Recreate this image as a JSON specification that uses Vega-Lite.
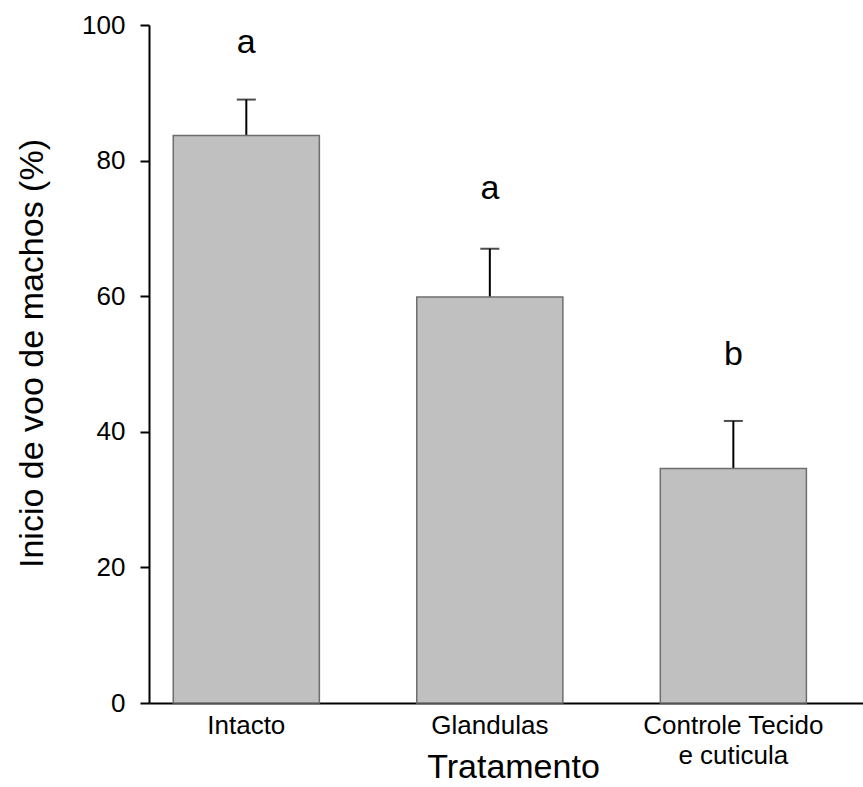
{
  "$schema": "https://vega.github.io/schema/vega-lite/v6.json",
  "autosize": {"type": "none"},
  "width": 714,
  "height": 678,
  "padding": {"left": 149, "top": 25, "right": 0, "bottom": 84},
  "background": "white",
  "config": {
    "view": {"stroke": null},
    "font": "Liberation Sans",
    "axis": {"grid": false, "domainColor": "black", "domainWidth": 2, "labelColor": "black", "titleColor": "black", "titleFontWeight": "normal", "labelFont": "Liberation Sans", "titleFont": "Liberation Sans", "labelLimit": 0}
  },
  "data": {
    "values": [
      {"tratamento": "Intacto", "valor": 83.7, "erro": 89.0, "letra": "a", "letra_pos": 95.8},
      {"tratamento": "Glandulas", "valor": 59.9, "erro": 67.0, "letra": "a", "letra_pos": 74.4},
      {"tratamento": "Controle Tecido e cuticula", "valor": 34.6, "erro": 41.6, "letra": "b", "letra_pos": 49.8}
    ]
  },
  "encoding": {
    "x": {
      "field": "tratamento",
      "type": "nominal",
      "sort": null,
      "scale": {"paddingInner": 0.4, "paddingOuter": 0.166, "align": 0.3},
      "axis": {
        "title": "Tratamento",
        "titleFontSize": 34,
        "titleY": 74,
        "titleX": 364,
        "titleAlign": "center",
        "titleBaseline": "alphabetic",
        "labelFontSize": 26,
        "labelAngle": 0,
        "ticks": false,
        "labelPadding": 9,
        "labelLineHeight": 30,
        "labelExpr": "datum.value == 'Controle Tecido e cuticula' ? ['Controle Tecido', 'e cuticula'] : datum.label"
      }
    }
  },
  "layer": [
    {
      "mark": {"type": "rule", "color": "black", "strokeWidth": 2},
      "encoding": {
        "y": {"field": "valor", "type": "quantitative"},
        "y2": {"field": "erro"}
      }
    },
    {
      "mark": {"type": "tick", "color": "black", "thickness": 2, "size": 19},
      "encoding": {
        "y": {"field": "erro", "type": "quantitative"}
      }
    },
    {
      "mark": {"type": "bar", "fill": "#c0c0c0", "stroke": "#6e6e6e", "strokeWidth": 1.5},
      "encoding": {
        "y": {
          "field": "valor",
          "type": "quantitative",
          "scale": {"domain": [0, 100], "nice": false},
          "axis": {
            "title": "Inicio de voo de machos (%)",
            "titleFontSize": 34,
            "titleY": 328,
            "titleX": -100,
            "titleAngle": -90,
            "titleAlign": "center",
            "titleBaseline": "bottom",
            "labelFontSize": 26,
            "values": [0, 20, 40, 60, 80, 100],
            "tickSize": 9,
            "tickWidth": 2,
            "tickColor": "black",
            "labelPadding": 15
          }
        }
      }
    },
    {
      "mark": {"type": "text", "fontSize": 34, "baseline": "alphabetic", "color": "black"},
      "encoding": {
        "y": {"field": "letra_pos", "type": "quantitative"},
        "text": {"field": "letra"}
      }
    }
  ]
}
